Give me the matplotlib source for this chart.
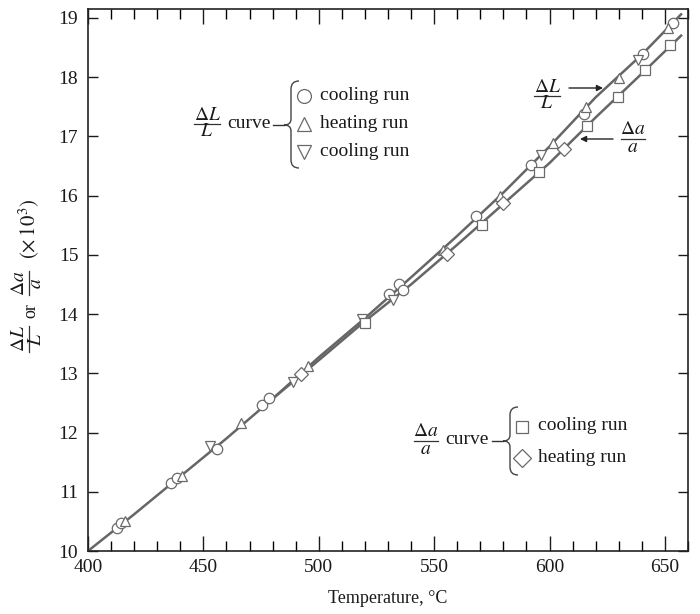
import numpy as np
import matplotlib
matplotlib.use("Agg")
import matplotlib.pyplot as plt
from matplotlib.path import Path
from matplotlib.patches import PathPatch
from matplotlib.ticker import MultipleLocator

plt.rcParams['font.family'] = ['Liberation Serif', 'DejaVu Serif']
plt.rcParams['mathtext.fontset'] = 'stix'

# Curves (temperature in C, strain x 10^3)
dL_T = [400, 420, 440, 460, 480, 500, 520, 540, 560, 580, 600, 620, 640, 657]
dL_y = [10.0, 10.62, 11.26, 11.90, 12.57, 13.27, 13.93, 14.62, 15.32, 16.05, 16.83, 17.66, 18.38, 19.06]
da_T = [480, 500, 520, 540, 560, 580, 600, 620, 640, 657]
da_y = [12.57, 13.22, 13.88, 14.50, 15.17, 15.86, 16.55, 17.32, 18.06, 18.70]

# Measured points
circ_T = [412.4, 414.2, 436.0, 438.4, 456.0, 475.3, 478.4, 530.5, 534.9, 536.6, 568.1, 591.8, 614.9, 640.6, 653.6]
circ_y = [10.38, 10.47, 11.14, 11.23, 11.72, 12.47, 12.58, 14.34, 14.50, 14.40, 15.66, 16.51, 17.38, 18.39, 18.92]
up_T = [416.0, 440.6, 466.3, 495.5, 553.9, 578.5, 601.3, 615.8, 630.2, 651.4]
up_y = [10.51, 11.26, 12.16, 13.13, 15.08, 16.00, 16.88, 17.50, 17.98, 18.83]
down_T = [452.9, 488.7, 518.6, 532.0, 596.3, 638.4]
down_y = [11.77, 12.85, 13.91, 14.24, 16.69, 18.29]
sq_T = [520.0, 570.6, 595.5, 616.1, 629.8, 641.3, 652.2]
sq_y = [13.85, 15.51, 16.39, 17.18, 17.66, 18.12, 18.55]
dia_T = [492.5, 555.4, 580.0, 606.2]
dia_y = [12.99, 15.01, 15.88, 16.79]

line_c = '#666666'
mk_c = '#6a6a6a'
txt_c = '#1a1a1a'

fig = plt.figure(figsize=(7, 6.14), dpi=100)
ax = fig.add_axes([88/700, 1 - 551/614, 600/700, 542/614])

ax.plot(dL_T, dL_y, color=line_c, lw=1.8, zorder=2)
ax.plot(da_T, da_y, color=line_c, lw=1.8, zorder=2)

mk = dict(ls='none', mfc='white', mec=mk_c, mew=0.9, ms=7.5, zorder=3)
ax.plot(circ_T, circ_y, marker='o', **mk)
ax.plot(up_T, up_y, marker='^', **mk)
ax.plot(down_T, down_y, marker='v', **mk)
ax.plot(sq_T, sq_y, marker='s', **mk)
ax.plot(dia_T, dia_y, marker='D', **dict(mk, ms=7))

ax.set_xlim(400, 660)
ax.set_ylim(10, 19.15)
ax.xaxis.set_major_locator(MultipleLocator(50))
ax.xaxis.set_minor_locator(MultipleLocator(10))
ax.yaxis.set_major_locator(MultipleLocator(1))
ax.tick_params(axis='x', which='major', direction='in', length=11, width=1, top=True, labelsize=14, colors=txt_c, pad=6)
ax.tick_params(axis='x', which='minor', direction='in', length=7, width=1, top=True)
ax.tick_params(axis='y', which='major', direction='in', length=7, width=1, right=True, labelsize=14, colors=txt_c, pad=7)
for s in ax.spines.values():
    s.set_linewidth(1.2)
    s.set_color('#222222')

ax.set_xlabel('Temperature, \u00b0C', fontsize=13, color=txt_c, labelpad=10)


def px(x, y):
    return ((x - 88) / 600, (551 - y) / 542)


def txt(x, y, s, size=14, ha='center', rot=0):
    ax.text(*px(x, y), s, fontsize=size, color=txt_c, ha=ha, va='center',
            rotation=rot, transform=ax.transAxes, clip_on=False)


def seg(x0, y0, x1, y1, lw=1.0):
    ax.plot(*zip(px(x0, y0), px(x1, y1)), color='#333333', lw=lw,
            transform=ax.transAxes, clip_on=False)


def frac(xc, yc, num, den, w=26, size=14, rot=False):
    if rot:
        txt(xc - 9, yc, num, size, rot=90)
        txt(xc + 8, yc, den, size, rot=90)
        seg(xc, yc - w / 2, xc, yc + w / 2, lw=0.9)
    else:
        txt(xc, yc - 9, num, size)
        txt(xc, yc + 8, den, size)
        seg(xc - w / 2, yc, xc + w / 2, yc, lw=0.9)


def brace(xtip, ymid, top, bottom):
    xv = xtip + 7
    xe = xtip + 15
    pts = [(xe, top), (xv, top), (xv, top + 8),
           (xv, ymid - 6),
           (xv, ymid), (xtip, ymid),
           (xv, ymid), (xv, ymid + 6),
           (xv, bottom - 8),
           (xv, bottom), (xe, bottom)]
    codes = [Path.MOVETO, Path.CURVE3, Path.CURVE3,
             Path.LINETO,
             Path.CURVE3, Path.CURVE3,
             Path.CURVE3, Path.CURVE3,
             Path.LINETO,
             Path.CURVE3, Path.CURVE3]
    path = Path([px(*p) for p in pts], codes)
    ax.add_patch(PathPatch(path, fc='none', ec='#444444', lw=1.0,
                           transform=ax.transAxes, clip_on=False))


def key(x, y, marker, label, ms=10):
    ax.plot(*px(x, y), marker=marker, ls='none', mfc='white', mec=mk_c, mew=0.9,
            ms=ms, transform=ax.transAxes, clip_on=False)
    txt(x + 16, y - 1, label, 14, ha='left')


# y axis label
frac(29, 339, r'$\Delta L$', r'$L$', rot=True)
txt(31, 311, 'or', 13, rot=90)
frac(29, 283, r'$\Delta a$', r'$a$', w=24, rot=True)
txt(29, 229, r'$(\times\,10^3)$', 15, rot=90)

# legend for dL/L curve
frac(207, 124, r'$\Delta L$', r'$L$')
txt(227, 124, 'curve', 14, ha='left')
seg(273, 125, 284, 125)
brace(284, 125, 81, 168)
key(304, 96, 'o', 'cooling run')
key(304, 124, '^', 'heating run')
key(304, 152, 'v', 'cooling run')

# legend for da/a curve
frac(426, 441, r'$\Delta a$', r'$a$', w=24)
txt(445, 440, 'curve', 14, ha='left')
seg(492, 441, 503, 441)
brace(503, 441, 407, 475)
key(522, 427, 's', 'cooling run', ms=9)
key(522, 458, 'D', 'heating run', ms=9)

# curve labels with arrows
frac(547, 96, r'$\Delta L$', r'$L$')
ax.annotate('', xy=px(603, 88), xytext=px(569, 88), xycoords='axes fraction', textcoords='axes fraction',
            arrowprops=dict(arrowstyle='-|>', lw=1.0, color='#222222', mutation_scale=9, shrinkA=0, shrinkB=0))
frac(633, 139, r'$\Delta a$', r'$a$', w=24)
ax.annotate('', xy=px(580, 139), xytext=px(613, 139), xycoords='axes fraction', textcoords='axes fraction',
            arrowprops=dict(arrowstyle='-|>', lw=1.0, color='#222222', mutation_scale=9, shrinkA=0, shrinkB=0))

fig.savefig('out.png', dpi=100)
